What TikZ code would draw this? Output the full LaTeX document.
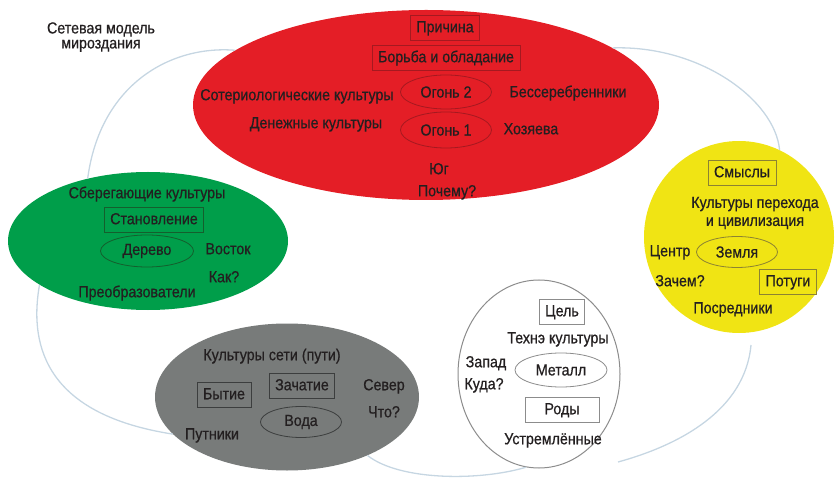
\documentclass[tikz,border=0pt]{standalone}
\usepackage{fontspec}
\setmainfont{Liberation Sans}[FakeStretch=0.89,FakeBold=0.6]
\usetikzlibrary{shapes}
\usetikzlibrary{positioning}

\definecolor{redfill}{RGB}{228,30,38}
\definecolor{greenfill}{RGB}{0,158,74}
\definecolor{yellowfill}{RGB}{240,228,20}
\definecolor{grayfill}{RGB}{120,123,122}
\definecolor{redline}{RGB}{165,25,32}
\definecolor{greenline}{RGB}{20,95,45}
\definecolor{yellowline}{RGB}{140,130,50}
\definecolor{grayline}{RGB}{60,62,62}
\definecolor{whiteline}{RGB}{140,140,140}
\definecolor{linkblue}{RGB}{198,214,226}
\definecolor{ink}{RGB}{35,31,32}

\begin{document}
\begin{tikzpicture}[x=1pt,y=-1pt,font=\fontsize{16}{18}\selectfont,text=ink,
	txt/.style={text height=11.5pt,text depth=3pt,inner sep=0pt},
	box/.style={draw=#1,line width=0.8pt,text height=11.5pt,text depth=3pt,inner xsep=6pt,inner ysep=5.5pt},
	oval/.style={ellipse,draw=#1,line width=0.8pt,inner sep=0pt,minimum width=91pt,minimum height=34pt},
	area/.style={ellipse,fill=#1,inner sep=0pt},
	link/.style={draw=linkblue,line width=1.3pt}]
	
	\useasboundingbox (0,0) rectangle (835,478);
	
	\node[area=redfill,minimum width=466pt,minimum height=190pt] (red) at (426,105) {};
	\node[area=greenfill,minimum width=280pt,minimum height=138pt] (green) at (148,241) {};
	\node[area=yellowfill,minimum width=190pt,minimum height=192pt] (yellow) at (739,237) {};
	\node[area=grayfill,minimum width=264pt,minimum height=147pt] (gray) at (287,397) {};
	\node[area=white,draw=whiteline,line width=1pt,minimum width=162pt,minimum height=188pt] (white) at (539,374) {};
	
	\coordinate (wgap) at (618,462);
	\coordinate (yend) at (751,345);
	
	\draw[link] (red.164) .. controls (170,45) and (100,85) .. (green.134);
	\draw[link] (red.17) .. controls (700,45) and (775,100) .. (yellow.65);
	\draw[link] (green.202) .. controls (28,350) and (50,415) .. (gray.198);
	\draw[link] (gray.324) .. controls (400,481) and (480,481) .. (white.262);
	\draw[link] (wgap) .. controls (680,445) and (745,410) .. (yend);
	
	\node[align=center,inner sep=0pt,font=\fontsize{16}{15}\selectfont] (title) at (101,37) {Сетевая модель\\мироздания};
	
	\node[box=redline] (cause) at (445,28) {Причина};
	\node[box=redline] (fight) at (446,58) {Борьба и обладание};
	\node[oval=redline] (fire2) at (446,92) {Огонь 2};
	\node[oval=redline,minimum height=36pt] (fire1) at (446,130) {Огонь 1};
	\node[txt] (soter) at (297,96) {Сотериологические культуры};
	\node[txt] (money) at (316,124) {Денежные культуры};
	\node[txt] (bess) at (568,93) {Бессеребренники};
	\node[txt] (hoz) at (531,130) {Хозяева};
	\node[txt] (south) at (439,170) {Юг};
	\node[txt] (why) at (447,192) {Почему?};
	
	\node[txt] (keep) at (147,194) {Сберегающие культуры};
	\node[box=greenline] (becom) at (154,220) {Становление};
	\node[oval=greenline,minimum width=93pt,minimum height=32pt] (wood) at (147,251) {Дерево};
	\node[txt] (east) at (228,250) {Восток};
	\node[txt] (how) at (224,278) {Как?};
	\node[txt] (trans) at (137,293) {Преобразователи};
	
	\node[txt] (net) at (272,356) {Культуры сети (пути)};
	\node[box=grayline] (being) at (224,395) {Бытие};
	\node[box=grayline] (concep) at (302,386) {Зачатие};
	\node[oval=grayline,minimum width=81pt,minimum height=31pt] (water) at (301,422) {Вода};
	\node[txt] (north) at (384,386) {Север};
	\node[txt] (what) at (384,413) {Что?};
	\node[txt] (walk) at (212,435) {Путники};
	
	\node[box=whiteline] (goal) at (562,312) {Цель};
	\node[txt] (techne) at (558,339) {Технэ культуры};
	\node[txt] (west) at (486,363) {Запад};
	\node[txt] (where) at (484,385) {Куда?};
	\node[oval=whiteline,minimum width=92pt] (metal) at (561,370) {Металл};
	\node[box=whiteline,minimum width=74pt] (kin) at (562,410) {Роды};
	\node[txt] (aspir) at (553,440) {Устремлённые};
	
	\node[box=yellowline] (sense) at (742,173) {Смыслы};
	\node[align=center,inner sep=0pt,font=\fontsize{16}{18}\selectfont] (pass) at (755,213) {Культуры перехода\\и цивилизация};
	\node[txt] (centre) at (670,252) {Центр};
	\node[oval=yellowline,minimum width=81pt,minimum height=31pt] (earth) at (737,252) {Земля};
	\node[txt] (wherefore) at (680,282) {Зачем?};
	\node[box=yellowline] (throes) at (788,282) {Потуги};
	\node[txt] (medi) at (733,309) {Посредники};
	
\end{tikzpicture}
\end{document}
